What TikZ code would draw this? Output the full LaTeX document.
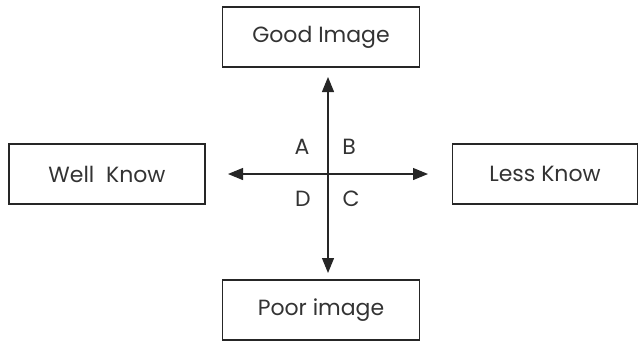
\documentclass[tikz,border=0pt]{standalone}
\usepackage{fontspec}
\setmainfont{Poppins}
\usetikzlibrary{arrows.meta}
\begin{document}
\begin{tikzpicture}[x=1pt,y=-1pt,
  box/.style={draw=black!85, line width=1.8pt, minimum width=#1, minimum height=60pt, inner sep=0pt, font=\fontsize{22}{24}\selectfont, text=black!80},
  lbl/.style={font=\fontsize{22}{24}\selectfont, text=black!80, inner sep=0pt},
  arr/.style={draw=black!85, line width=1.2pt, -{Triangle[length=15pt,width=12pt]}}]
\useasboundingbox (0,0) rectangle (639,341);
\node[box=197pt] (good) at (321,37) {Good Image};
\node[box=197pt] (poor) at (321,310) {Poor image};
\node[box=196pt] (well) at (107,174) {Well\ \ Know};
\node[box=185pt] (less) at (545,174) {Less Know};
\coordinate (c) at (328,174);
\coordinate (top) at (328,77);
\coordinate (bot) at (328,273);
\coordinate (lft) at (228,174);
\coordinate (rgt) at (428,174);
\draw[arr] (c) -- (top);
\draw[arr] (c) -- (bot);
\draw[arr] (c) -- (lft);
\draw[arr] (c) -- (rgt);
\node[lbl] (A) at (302,147) {A};
\node[lbl] (B) at (349,147) {B};
\node[lbl] (D) at (303,199) {D};
\node[lbl] (C) at (351,199) {C};
\end{tikzpicture}
\end{document}
